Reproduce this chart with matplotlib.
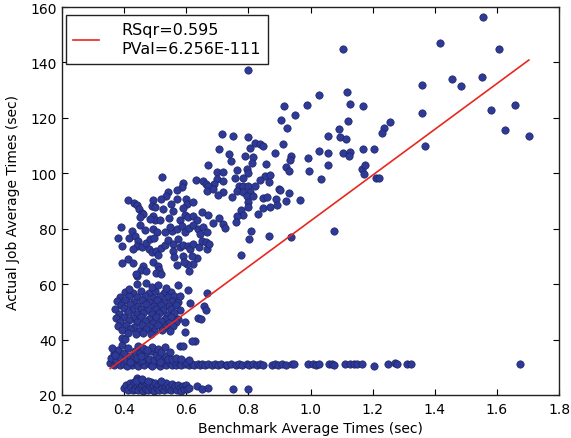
import matplotlib
matplotlib.use("Agg")
import matplotlib.pyplot as plt

# (benchmark avg, actual job avg), grouped by band
FLOOR_POINTS = [
    (0.398, 22.4), (0.405, 23.6), (0.412, 21.9), (0.418, 24.2), (0.423, 22.8),
    (0.427, 21.7), (0.431, 24.6), (0.436, 22.3), (0.440, 23.4), (0.442, 26.3),
    (0.445, 21.8), (0.449, 24.0), (0.452, 25.0), (0.455, 22.5), (0.458, 23.7),
    (0.461, 21.6), (0.465, 24.7), (0.468, 23.0), (0.471, 22.1), (0.474, 24.2),
    (0.478, 21.7), (0.482, 23.2), (0.485, 24.8), (0.489, 22.2), (0.493, 23.7),
    (0.497, 21.6), (0.501, 24.3), (0.505, 22.7), (0.509, 23.5), (0.513, 21.9),
    (0.518, 24.0), (0.522, 22.6), (0.527, 21.7), (0.531, 23.3), (0.536, 24.2),
    (0.541, 22.2), (0.545, 23.0), (0.550, 21.7), (0.555, 23.8), (0.559, 22.5),
    (0.564, 23.4), (0.569, 21.8), (0.574, 23.6), (0.579, 22.4), (0.584, 21.6),
    (0.589, 23.1), (0.594, 22.3), (0.599, 23.5), (0.604, 22.0), (0.608, 22.6),
    (0.634, 23.4), (0.650, 22.2), (0.671, 22.4), (0.752, 22.3), (0.800, 22.0),
    (0.445, 25.5), (0.437, 25.2), (0.459, 25.8), (0.476, 25.1), (0.520, 24.9),
]

ROW_POINTS = [
    (0.355, 31.6), (0.366, 30.9), (0.379, 31.8), (0.388, 30.7), (0.401, 31.3),
    (0.418, 31.9), (0.425, 30.8), (0.437, 31.5), (0.446, 30.6), (0.458, 31.7),
    (0.463, 31.0), (0.479, 31.4), (0.486, 30.7), (0.497, 31.8), (0.505, 31.1),
    (0.514, 30.6), (0.528, 31.5), (0.536, 30.9), (0.547, 31.6), (0.553, 31.0),
    (0.566, 30.8), (0.578, 31.4), (0.584, 30.9), (0.597, 31.3), (0.609, 30.8),
    (0.618, 31.2), (0.626, 30.9), (0.638, 31.3), (0.645, 30.9),
    (0.372, 32.2), (0.410, 30.5), (0.450, 32.1), (0.490, 30.4), (0.520, 32.0),
    (0.560, 32.1), (0.600, 31.9),
    (0.650, 31.1), (0.660, 30.9), (0.671, 31.2), (0.682, 31.0), (0.692, 31.1),
    (0.703, 30.9), (0.711, 31.2), (0.728, 31.0), (0.732, 30.7), (0.743, 31.1),
    (0.760, 31.0), (0.771, 31.2), (0.781, 30.9), (0.795, 31.1), (0.803, 30.9),
    (0.814, 31.2), (0.827, 31.0), (0.837, 31.1), (0.848, 30.9), (0.875, 31.0),
    (0.885, 31.1), (0.896, 30.9), (0.907, 31.2), (0.921, 31.0), (0.939, 31.1),
    (0.947, 31.1), (0.993, 31.1), (1.009, 31.2), (1.017, 31.0), (1.027, 31.1),
    (1.060, 31.1), (1.070, 31.2), (1.075, 31.0), (1.111, 31.2), (1.127, 31.3),
    (1.140, 31.1), (1.149, 31.1), (1.165, 31.1), (1.205, 30.6), (1.249, 31.1),
    (1.272, 31.4), (1.279, 31.1), (1.311, 31.1), (1.325, 31.3), (1.675, 31.2),
]

LOW_POINTS = [
    (0.358, 33.5), (0.366, 35.0), (0.374, 32.6), (0.380, 36.4), (0.387, 33.8),
    (0.394, 37.9), (0.401, 35.1), (0.405, 32.8), (0.412, 37.0), (0.418, 34.2),
    (0.428, 32.9), (0.434, 36.0), (0.440, 33.4), (0.446, 37.6), (0.451, 35.2),
    (0.457, 32.7), (0.462, 36.8), (0.468, 34.0), (0.479, 33.1), (0.485, 35.7),
    (0.490, 37.4), (0.496, 32.8), (0.502, 34.6), (0.508, 36.5), (0.513, 33.3),
    (0.519, 35.4), (0.525, 32.6), (0.531, 37.2), (0.536, 34.1), (0.542, 33.0),
    (0.548, 35.6), (0.553, 32.9), (0.567, 33.2), (0.584, 33.0), (0.610, 32.8),
    (0.392, 40.4), (0.403, 40.2), (0.580, 37.8), (0.590, 37.8), (0.370, 34.6),
    (0.420, 31.9), (0.455, 34.0), (0.515, 31.9), (0.475, 36.2), (0.362, 36.9),
]

BLOB_POINTS = [
    (0.402, 57.3), (0.428, 56.8), (0.454, 57.6), (0.481, 56.9), (0.500, 57.4),
    (0.527, 56.7), (0.552, 57.1), (0.386, 55.4), (0.415, 55.9), (0.441, 55.2),
    (0.466, 55.7), (0.493, 55.0), (0.516, 55.8), (0.541, 55.3), (0.562, 55.6),
    (0.377, 53.8), (0.404, 54.3), (0.431, 53.6), (0.456, 54.1), (0.480, 53.5),
    (0.507, 54.2), (0.529, 53.7), (0.553, 54.0), (0.574, 53.4), (0.391, 52.4),
    (0.418, 52.8), (0.446, 52.2), (0.469, 52.7), (0.495, 52.1), (0.520, 52.6),
    (0.544, 52.0), (0.566, 52.5), (0.372, 50.9), (0.399, 51.3), (0.426, 50.7),
    (0.453, 51.1), (0.477, 50.6), (0.502, 51.2), (0.526, 50.8), (0.550, 51.0),
    (0.579, 50.5), (0.385, 49.4), (0.412, 49.8), (0.440, 49.2), (0.462, 49.7),
    (0.489, 49.1), (0.512, 49.6), (0.538, 49.0), (0.560, 49.5), (0.375, 47.9),
    (0.401, 48.3), (0.429, 47.7), (0.454, 48.2), (0.481, 47.6), (0.504, 48.1),
    (0.530, 47.5), (0.552, 48.0), (0.573, 47.4), (0.388, 46.4), (0.416, 46.9),
    (0.443, 46.2), (0.466, 46.8), (0.492, 46.1), (0.519, 46.6), (0.543, 46.0),
    (0.566, 46.5), (0.379, 44.9), (0.405, 45.3), (0.432, 44.7), (0.457, 45.2),
    (0.484, 44.6), (0.508, 45.1), (0.533, 44.5), (0.557, 44.9), (0.393, 43.4),
    (0.419, 43.9), (0.447, 43.2), (0.471, 43.7), (0.496, 43.1), (0.522, 43.6),
    (0.548, 43.0), (0.411, 42.4), (0.437, 41.9), (0.462, 42.2), (0.488, 42.0),
    (0.415, 58.4), (0.490, 58.8), (0.535, 58.5),
    (0.440, 60.0), (0.472, 60.4), (0.510, 59.7), (0.572, 59.7), (0.607, 57.9),
    (0.580, 55.8), (0.612, 53.2), (0.639, 47.7), (0.596, 46.2), (0.668, 56.7),
    (0.657, 52.2), (0.664, 50.8), (0.646, 47.6), (0.596, 42.6), (0.628, 39.6),
    (0.617, 39.6),
]

MID_POINTS = [
    (0.521, 98.5), (0.669, 103.0), (0.630, 97.6), (0.655, 97.3), (0.664, 96.1),
    (0.588, 96.4), (0.585, 94.9), (0.569, 94.0), (0.542, 93.1), (0.535, 91.9),
    (0.414, 90.3), (0.432, 89.3), (0.442, 88.5), (0.449, 87.1), (0.456, 85.5),
    (0.494, 90.5), (0.519, 90.7), (0.489, 88.3), (0.499, 87.7), (0.524, 87.1),
    (0.550, 88.9), (0.558, 86.5), (0.569, 90.7), (0.599, 90.7), (0.603, 88.9),
    (0.621, 89.5), (0.588, 87.4), (0.494, 84.7), (0.499, 83.2), (0.515, 83.0),
    (0.545, 83.8), (0.580, 83.0), (0.596, 85.1), (0.607, 84.2), (0.623, 84.7),
    (0.634, 83.0), (0.650, 85.9), (0.671, 84.9), (0.451, 81.3), (0.389, 80.7),
    (0.424, 79.3), (0.467, 79.5), (0.492, 79.9), (0.505, 78.7), (0.532, 78.7),
    (0.553, 79.3), (0.569, 79.9), (0.585, 80.9), (0.596, 78.9), (0.610, 80.1),
    (0.621, 81.3), (0.639, 79.9), (0.655, 80.5), (0.668, 78.9), (0.381, 76.5),
    (0.392, 73.9), (0.417, 76.5), (0.435, 77.2), (0.446, 75.7), (0.440, 73.9),
    (0.428, 72.7), (0.457, 73.3), (0.472, 74.7), (0.483, 76.3), (0.496, 76.5),
    (0.481, 72.7), (0.489, 71.5), (0.503, 72.1), (0.510, 70.5), (0.518, 72.9),
    (0.532, 74.1), (0.542, 76.0), (0.556, 74.5), (0.556, 72.1), (0.561, 69.9),
    (0.574, 76.3), (0.580, 73.3), (0.590, 74.1), (0.607, 73.9), (0.612, 72.7),
    (0.623, 74.5), (0.642, 73.3), (0.650, 75.7), (0.634, 69.3), (0.623, 67.3),
    (0.603, 67.3), (0.590, 70.0), (0.593, 67.9), (0.394, 67.5), (0.414, 69.1),
    (0.430, 67.6), (0.460, 66.4), (0.453, 65.2), (0.470, 64.8), (0.494, 67.9),
    (0.510, 66.6), (0.513, 65.2), (0.503, 64.0), (0.518, 63.6), (0.442, 63.0),
    (0.438, 63.6), (0.610, 64.8), (0.569, 66.9), (0.617, 70.3), (0.664, 75.1),
    (0.666, 72.7), (0.644, 78.2), (0.462, 85.3), (0.483, 83.5), (0.451, 84.1),
    (0.548, 80.5),
]

UPPER_POINTS = [
    (0.714, 114.3), (0.749, 113.3), (0.798, 113.0), (0.821, 110.8), (0.837, 110.6),
    (0.846, 109.7), (0.805, 109.1), (0.705, 108.6), (0.739, 107.1), (0.886, 107.2),
    (0.789, 106.1), (0.814, 105.8), (0.743, 104.5), (0.811, 103.7), (0.856, 103.3),
    (0.762, 101.3), (0.795, 101.5), (0.700, 100.6), (0.717, 100.6), (0.800, 100.1),
    (0.854, 99.1), (0.870, 99.4), (0.757, 98.2), (0.784, 98.2), (0.698, 97.9),
    (0.717, 97.3), (0.837, 97.6), (0.867, 97.0), (0.689, 96.1), (0.671, 95.3),
    (0.771, 95.3), (0.784, 95.5), (0.800, 95.3), (0.821, 95.3), (0.900, 94.3),
    (0.668, 93.7), (0.687, 94.3), (0.719, 93.3), (0.762, 93.7), (0.782, 93.3),
    (0.805, 93.1), (0.703, 92.3), (0.746, 91.3), (0.795, 91.7), (0.814, 91.7),
    (0.848, 91.0), (0.859, 91.5), (0.889, 90.7), (0.921, 90.1), (0.800, 89.5),
    (0.846, 87.4), (0.870, 87.7), (0.891, 88.5), (0.798, 87.7), (0.775, 86.9),
    (0.832, 85.3), (0.784, 84.9), (0.762, 84.5), (0.705, 83.7), (0.760, 82.5),
    (0.685, 82.0), (0.719, 81.7), (0.725, 80.1), (0.807, 79.3), (0.867, 77.5),
    (0.803, 76.3), (0.674, 74.5),
]

TAIL_POINTS = [
    (1.555, 156.4), (1.417, 147.0), (1.607, 144.8), (1.105, 144.8), (1.456, 134.0),
    (1.485, 131.5), (1.552, 134.7), (1.359, 131.8), (1.359, 121.7), (1.369, 109.8),
    (1.581, 122.8), (1.658, 124.6), (1.626, 115.6), (1.703, 113.4), (1.027, 128.2),
    (1.118, 129.3), (1.127, 125.0), (1.169, 124.3), (1.121, 118.9), (1.256, 118.5),
    (1.237, 116.3), (1.230, 114.5), (1.092, 116.0), (1.095, 113.1), (1.114, 112.4),
    (1.056, 113.4), (1.027, 108.0), (1.056, 107.3), (1.105, 107.3), (1.127, 107.7),
    (1.124, 106.2), (1.169, 108.8), (1.205, 108.8), (0.992, 105.5), (1.056, 103.0),
    (0.995, 100.8), (1.034, 97.9), (1.166, 101.5), (1.176, 103.0), (1.172, 99.7),
    (1.211, 98.3), (1.221, 98.3), (0.989, 124.6), (0.950, 121.0), (0.915, 124.3),
    (0.905, 119.2), (0.924, 116.3), (0.911, 110.6), (0.937, 106.2), (0.934, 104.8),
    (0.921, 102.3), (0.931, 100.8), (0.902, 94.0), (0.931, 92.9), (0.966, 90.4),
    (0.937, 77.0), (1.076, 79.2), (0.800, 137.3), (0.775, 70.6),
]

# regression line as it appears in the reference
FIT_SLOPE = 82.6
FIT_INTERCEPT = 0.2
RSQR = "0.595"
PVAL = "6.256E-111"

X_TICKS = [0.2, 0.4, 0.6, 0.8, 1.0, 1.2, 1.4, 1.6, 1.8]
Y_TICKS = [20, 40, 60, 80, 100, 120, 140, 160]

POINT_COLOR = "#2e3a98"
EDGE_COLOR = "#1f2466"
LINE_COLOR = "#e8281e"


def main():
    points = (FLOOR_POINTS + ROW_POINTS + LOW_POINTS + BLOB_POINTS
              + MID_POINTS + UPPER_POINTS + TAIL_POINTS)
    bench = [p[0] for p in points]
    actual = [p[1] for p in points]

    plt.rcParams["font.family"] = ["DejaVu Sans"]
    fig = plt.figure(figsize=(5.71, 4.39), dpi=100)
    ax = fig.add_axes([62 / 571, 43 / 439, 497 / 571, 388 / 439])

    ax.scatter(bench, actual, s=28, c=POINT_COLOR, edgecolors=EDGE_COLOR,
               linewidths=0.5, zorder=2)

    xs = [min(bench), max(bench)]
    ax.plot(xs, [FIT_INTERCEPT + FIT_SLOPE * x for x in xs], color=LINE_COLOR,
            lw=1.2, zorder=3, label=f"RSqr={RSQR}\nPVal={PVAL}")

    ax.set_xlim(0.2, 1.8)
    ax.set_ylim(20, 160)
    ax.set_xticks(X_TICKS)
    ax.set_yticks(Y_TICKS)
    ax.set_xticklabels([f"{t:.1f}" for t in X_TICKS])
    ax.set_yticklabels([str(t) for t in Y_TICKS])
    ax.tick_params(direction="in", top=True, right=True, length=4,
                   width=0.8, labelsize=10)
    ax.tick_params(axis="x", pad=5)
    ax.tick_params(axis="y", pad=4)
    for spine in ax.spines.values():
        spine.set_linewidth(1.0)
        spine.set_color("#222222")

    ax.set_xlabel("Benchmark Average Times (sec)", fontsize=10, labelpad=4)
    ax.set_ylabel("Actual Job Average Times (sec)", fontsize=10, labelpad=7)

    leg = ax.legend(loc="upper left", bbox_to_anchor=(4 / 497, 1 - 8 / 388),
                    borderaxespad=0, fontsize=11.5, fancybox=False,
                    handlelength=1.6, handletextpad=1.4, borderpad=0.45,
                    framealpha=1)
    leg.get_texts()[0].set_linespacing(1.35)
    leg.get_frame().set_edgecolor("#222222")
    leg.get_frame().set_linewidth(1.0)

    fig.savefig("out.png", dpi=100, facecolor="white")
    plt.close(fig)


if __name__ == "__main__":
    main()
